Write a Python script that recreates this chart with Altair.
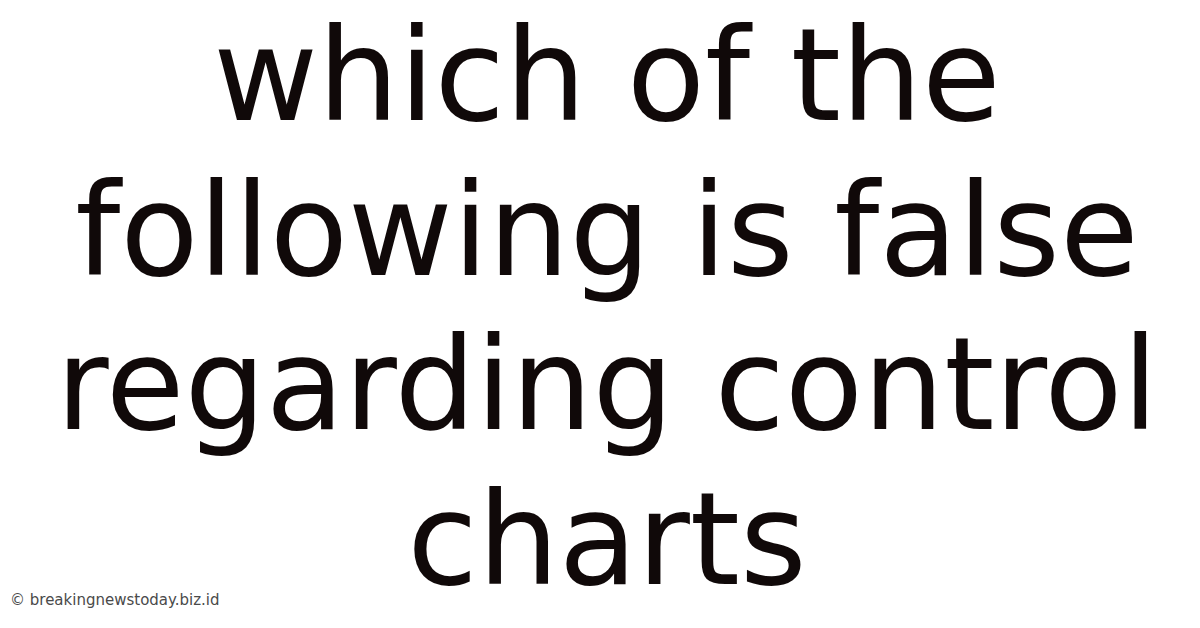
import altair as alt
import pandas as pd

lines = ["which of the", "following is false", "regarding control", "charts"]
line_index = [0, 1, 2, 3]
watermark = ["© breakingnewstoday.biz.id"]

df = pd.DataFrame({"line": line_index, "text": lines})
wm = pd.DataFrame({"text": watermark})

main = alt.Chart(df).mark_text(
    font="DejaVu Sans",
    fontSize=128,
    color="#100909",
    align="center",
    baseline="alphabetic",
).encode(
    x=alt.value(599),
    y=alt.Y("line:Q", scale=alt.Scale(domain=[0, 3], range=[112, 576]), axis=None),
    text="text:N",
)

mark = alt.Chart(wm).mark_text(
    font="DejaVu Sans",
    fontSize=15,
    color="#4a4a4a",
    align="left",
    baseline="alphabetic",
).encode(
    x=alt.value(2),
    y=alt.value(597),
    text="text:N",
)

chart = alt.layer(main, mark).properties(
    width=1184,
    height=612,
    padding=0,
    autosize=alt.AutoSizeParams(type="none"),
    background="white",
).configure_view(stroke=None)

chart.save("out.html", embed_options={"renderer": "svg", "actions": False})
